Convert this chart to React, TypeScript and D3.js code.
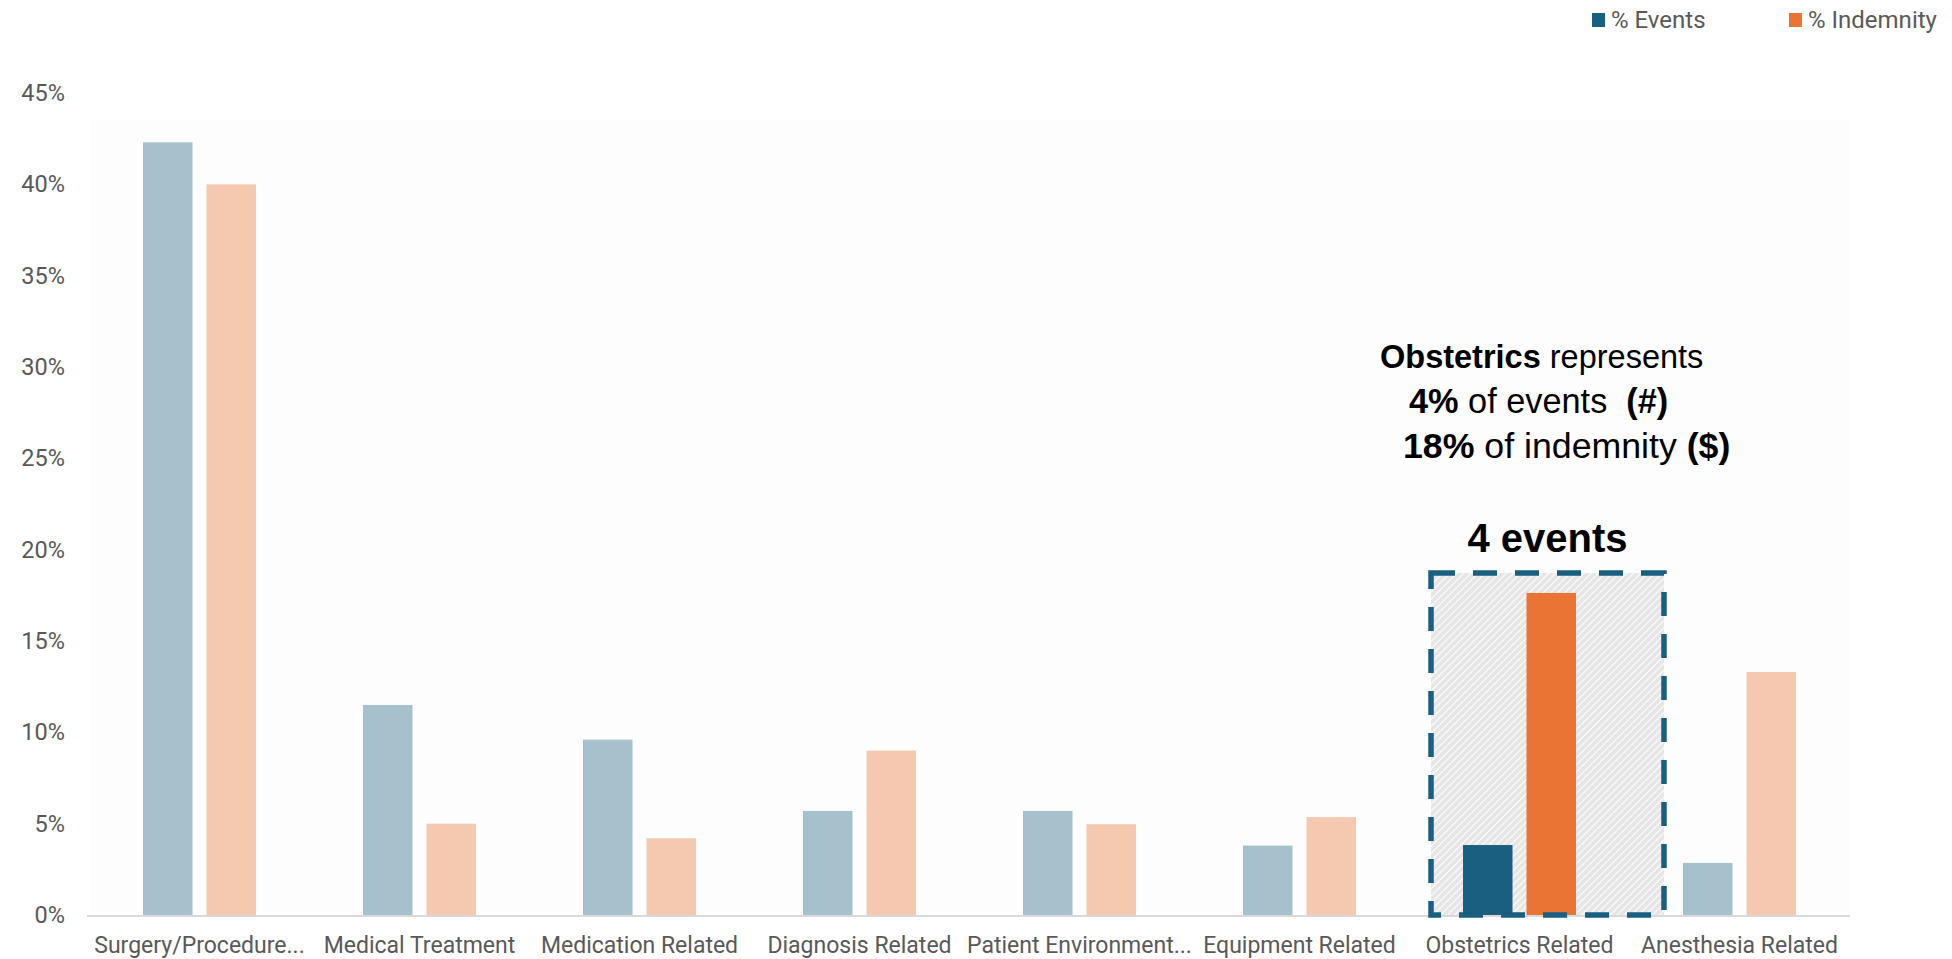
import React from "react";
import * as d3 from "d3";

// Category labels along the x axis
const categories = [
  "Surgery/Procedure...",
  "Medical Treatment",
  "Medication Related",
  "Diagnosis Related",
  "Patient Environment...",
  "Equipment Related",
  "Obstetrics Related",
  "Anesthesia Related",
];

// Share of events (%) per category
const eventsPct = [42.3, 11.5, 9.6, 5.7, 5.7, 3.8, 3.83, 2.85];
// Share of indemnity (%) per category
const indemnityPct = [40.0, 5.0, 4.2, 9.0, 4.97, 5.36, 17.63, 13.3];

const seriesKeys = ["events", "indemnity"];
const seriesNames = ["% Events", "% Indemnity"];
const yTicks = [0, 5, 10, 15, 20, 25, 30, 35, 40, 45];

const highlightCategory = "Obstetrics Related";
const highlightEventCount = 4;

const W = 1952;
const H = 959;

const colors = {
  events: "#1a5f80",
  indemnity: "#e97434",
  eventsFaded: "#a7c1cc",
  indemnityFaded: "#f5c8b0",
  text: "#595959",
  axis: "#d9d9d9",
};

export default function App() {
  const x = d3.scaleBand().domain(categories).range([89.5, 1849.5]).paddingInner(0).paddingOuter(0);
  const bw = x.bandwidth();
  const groupW = 113;
  const x1 = d3
    .scaleBand()
    .domain(seriesKeys)
    .range([(bw - groupW) / 2, (bw + groupW) / 2])
    .paddingInner(0.2205)
    .paddingOuter(0);
  const y = d3.scaleLinear().domain([0, 45]).range([915, 93]);

  const rows = categories.map((c, i) => ({
    category: c,
    events: eventsPct[i],
    indemnity: indemnityPct[i],
  }));

  const hiIdx = categories.indexOf(highlightCategory);
  const hiRow = rows[hiIdx];
  const hx0 = x(highlightCategory) as number;
  const boxLeft = hx0 + 21.5;
  const boxRight = hx0 + bw + 34.5;
  const boxTop = y(hiRow.indemnity) - 20;
  const boxBottom = y(0);

  const font = "Roboto, 'Noto Sans', sans-serif";
  const noteFont = "'Liberation Sans', Arial, sans-serif";

  const evRounded = Math.round(hiRow.events);
  const indRounded = Math.round(hiRow.indemnity);

  return (
    <div style={{ position: "fixed", left: 0, top: 0, width: W, height: H, background: "#fff" }}>
      <svg width={W} height={H} style={{ display: "block" }}>
        <defs>
          <pattern
            id="hatch"
            patternUnits="userSpaceOnUse"
            width={5}
            height={5}
            patternTransform="rotate(45)"
          >
            <rect width={5} height={5} fill="#e6e6e6" />
            <line x1={0} y1={0} x2={0} y2={5} stroke="#ffffff" strokeWidth={2} />
          </pattern>
        </defs>

        {/* faint plot area */}
        <rect x={90} y={120} width={1760} height={795} fill="#fdfdfd" />

        {/* y axis labels */}
        {yTicks.map((t) => (
          <text
            key={t}
            x={65}
            y={y(t)}
            textAnchor="end"
            dominantBaseline="central"
            fontFamily={font}
            fontSize={23.5}
            fill={colors.text}
          >
            {`${t}%`}
          </text>
        ))}

        {/* highlight box fill */}
        <rect
          x={boxLeft}
          y={boxTop}
          width={boxRight - boxLeft}
          height={boxBottom - boxTop}
          fill="url(#hatch)"
        />

        {/* bars */}
        {rows.map((r, i) => {
          const gx = x(r.category) as number;
          const hi = i === hiIdx;
          return (
            <g key={r.category}>
              {seriesKeys.map((k) => {
                const v = (r as any)[k] as number;
                const fill =
                  k === "events"
                    ? hi
                      ? colors.events
                      : colors.eventsFaded
                    : hi
                    ? colors.indemnity
                    : colors.indemnityFaded;
                return (
                  <rect
                    key={k}
                    x={gx + (x1(k) as number)}
                    y={y(v)}
                    width={x1.bandwidth()}
                    height={y(0) - y(v)}
                    fill={fill}
                  />
                );
              })}
            </g>
          );
        })}

        {/* x axis line */}
        <line x1={87} x2={1850} y1={916} y2={916} stroke={colors.axis} strokeWidth={2} />

        {/* highlight dashed border */}
        <rect
          x={boxLeft}
          y={boxTop}
          width={boxRight - boxLeft}
          height={boxBottom - boxTop}
          fill="none"
          stroke={colors.events}
          strokeWidth={5.5}
          strokeDasharray="24 18"
        />

        {/* x axis labels */}
        {categories.map((c) => (
          <text
            key={c}
            x={(x(c) as number) + bw / 2}
            y={945}
            textAnchor="middle"
            dominantBaseline="central"
            fontFamily={font}
            fontSize={23}
            fill={colors.text}
          >
            {c}
          </text>
        ))}

        {/* legend */}
        {seriesKeys.map((k, i) => {
          const lx = [1592, 1789][i];
          return (
            <g key={k}>
              <rect x={lx} y={13} width={13} height={14} fill={(colors as any)[k]} />
              <text
                x={lx + 19}
                y={20}
                dominantBaseline="central"
                fontFamily={font}
                fontSize={24}
                fill={colors.text}
              >
                {seriesNames[i]}
              </text>
            </g>
          );
        })}

        {/* annotation */}
        <g fontFamily={noteFont} fill="#000">
          <text x={1380} y={368} fontSize={32.5}>
            <tspan fontWeight="bold">Obstetrics</tspan>
            <tspan> represents</tspan>
          </text>
          <text x={1409} y={413} fontSize={34.3} xmlSpace="preserve">
            <tspan fontWeight="bold">{`${evRounded}%`}</tspan>
            <tspan>{" of events  "}</tspan>
            <tspan fontWeight="bold">(#)</tspan>
          </text>
          <text x={1403} y={458} fontSize={35.7} xmlSpace="preserve">
            <tspan fontWeight="bold">{`${indRounded}%`}</tspan>
            <tspan>{" of indemnity "}</tspan>
            <tspan fontWeight="bold">($)</tspan>
          </text>
          <text
            x={(boxLeft + boxRight) / 2}
            y={552}
            textAnchor="middle"
            fontWeight="bold"
            fontSize={40}
          >
            {`${highlightEventCount} events`}
          </text>
        </g>
      </svg>
    </div>
  );
}
